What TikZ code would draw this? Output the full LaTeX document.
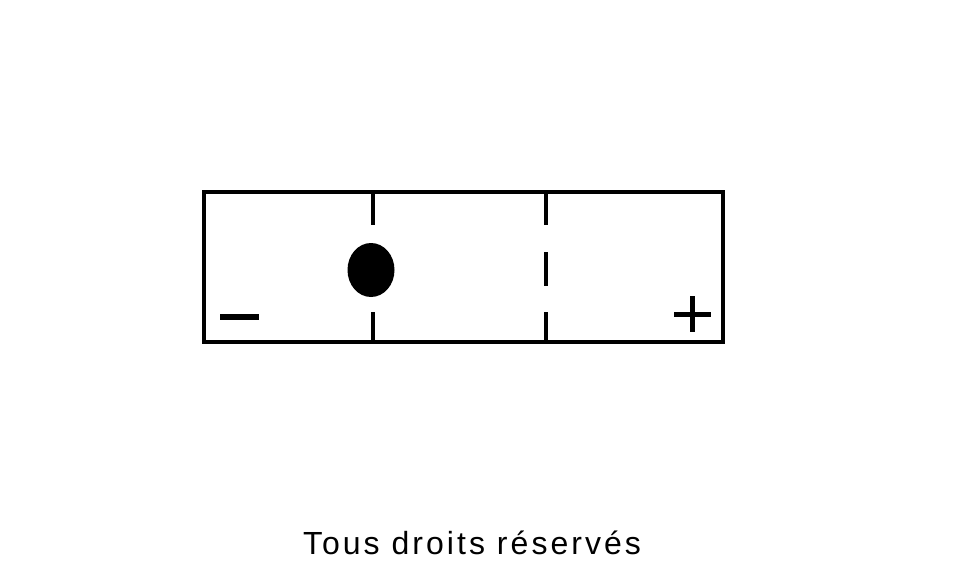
\documentclass[tikz,border=0pt]{standalone}
\usepackage{fontspec}
\usetikzlibrary{shapes.geometric}
\setmainfont{Liberation Sans}[LetterSpace=9.5]
\begin{document}
\begin{tikzpicture}[x=1pt,y=-1pt,
  frame/.style={line width=3.5pt},
  bar/.style={line width=4pt},
  sign/.style={line width=6pt}]
\useasboundingbox[fill=white] (0,0) rectangle (960,567);
\node[draw,frame,outer sep=0pt,minimum width=519pt,minimum height=150pt,inner sep=0pt,anchor=north west] (box) at (204,192) {};
\coordinate (d1t) at (373,192);
\coordinate (d1a) at (373,225);
\coordinate (d1b) at (373,312);
\coordinate (d1c) at (373,342);
\draw[bar] (d1t) -- (d1a);
\draw[bar] (d1b) -- (d1c);
\coordinate (d2t) at (546,192);
\coordinate (d2a) at (546,225);
\coordinate (d2b) at (546,252);
\coordinate (d2c) at (546,286);
\coordinate (d2d) at (546,312);
\coordinate (d2e) at (546,342);
\draw[bar] (d2t) -- (d2a);
\draw[bar] (d2b) -- (d2c);
\draw[bar] (d2d) -- (d2e);
\node[ellipse,fill=black,minimum width=47pt,minimum height=54pt,inner sep=0pt] (dot) at (371,270) {};
\coordinate (m1) at (220,317);
\coordinate (m2) at (259,317);
\draw[sign] (m1) -- (m2);
\coordinate (p1) at (674,314);
\coordinate (p2) at (711,314);
\coordinate (p3) at (692,296);
\coordinate (p4) at (692,332);
\draw[line width=5pt] (p1) -- (p2);
\draw[line width=5pt] (p3) -- (p4);
\node[anchor=base,inner sep=0pt,font=\fontsize{32}{36}\selectfont] (txt) at (472,554) {Tous droits réservés};
\end{tikzpicture}
\end{document}
